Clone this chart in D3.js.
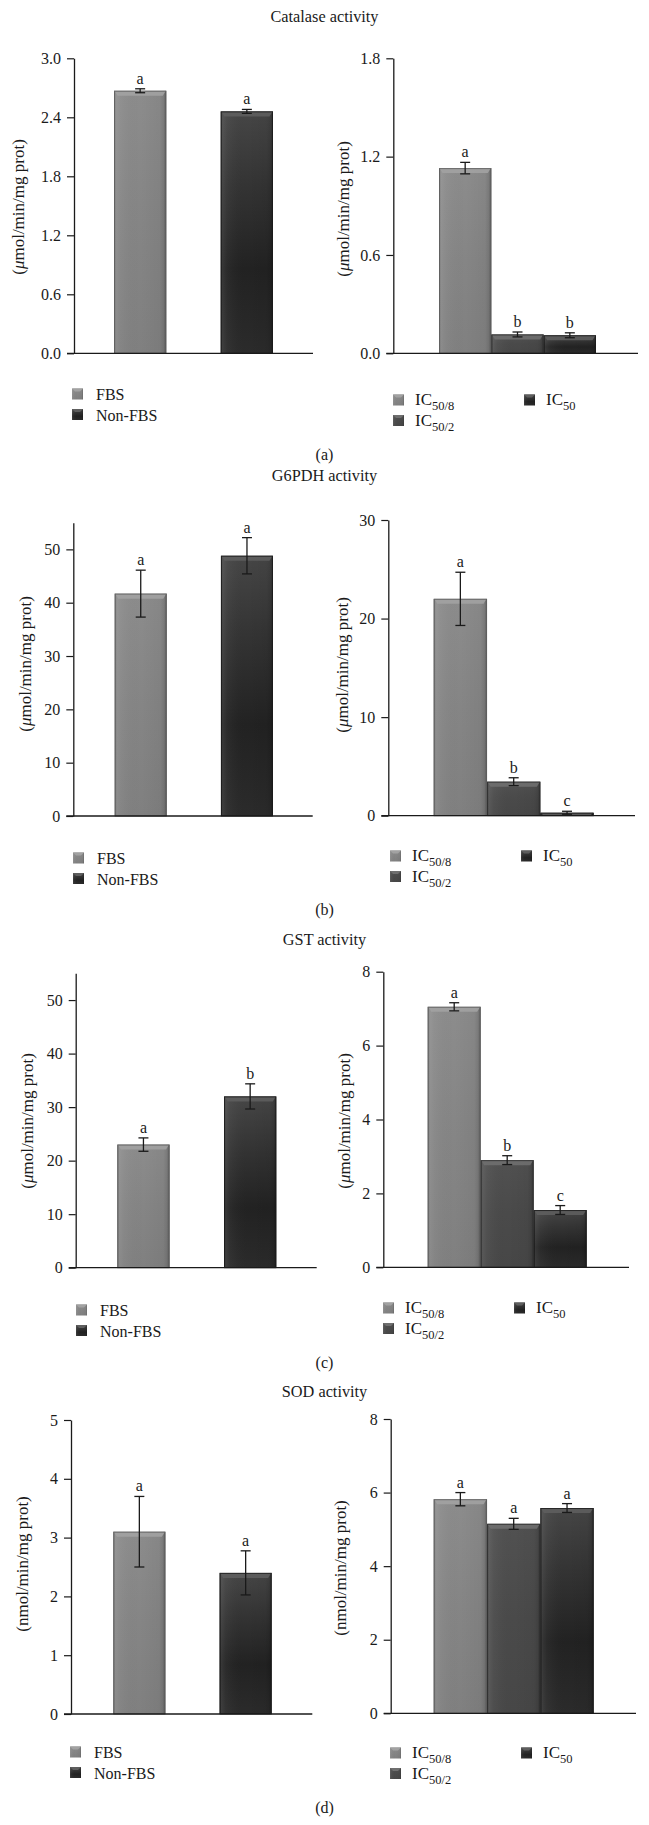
<!DOCTYPE html>
<html><head><meta charset="utf-8">
<script src="https://cdn.jsdelivr.net/npm/d3@7"></script>
<style>
body{margin:0;background:#fff}
svg{display:block}
text{font-family:"Liberation Serif","DejaVu Serif",serif;fill:#1a1a1a}
</style>
</head><body>
<svg id="chart" width="649" height="1825"></svg>
<script>
// ---------------- DATA ----------------
const panelTitles = ["Catalase activity", "G6PDH activity", "GST activity", "SOD activity"];
const panelTags = ["(a)", "(b)", "(c)", "(d)"];
const serumGroups = ["FBS", "Non-FBS"];
const doseGroups = ["IC50/8", "IC50/2", "IC50"];
const doseSubs = ["50/8", "50/2", "50"];
const unitPrefix = ["\u03bc", "\u03bc", "\u03bc", "n"];
const unitRest = "mol/min/mg prot";

const catalaseSerum = [2.67, 2.46];
const catalaseSerumErr = [0.02, 0.02];
const catalaseSerumLetters = ["a", "a"];
const catalaseDose = [1.13, 0.115, 0.11];
const catalaseDoseErr = [0.035, 0.015, 0.015];
const catalaseDoseLetters = ["a", "b", "b"];

const g6pdhSerum = [41.7, 48.8];
const g6pdhSerumErr = [4.4, 3.4];
const g6pdhSerumLetters = ["a", "a"];
const g6pdhDose = [22.0, 3.45, 0.3];
const g6pdhDoseErr = [2.7, 0.4, 0.15];
const g6pdhDoseLetters = ["a", "b", "c"];

const gstSerum = [23.0, 32.0];
const gstSerumErr = [1.25, 2.35];
const gstSerumLetters = ["a", "b"];
const gstDose = [7.05, 2.9, 1.55];
const gstDoseErr = [0.11, 0.12, 0.12];
const gstDoseLetters = ["a", "b", "c"];

const sodSerum = [3.1, 2.4];
const sodSerumErr = [0.6, 0.375];
const sodSerumLetters = ["a", "a"];
const sodDose = [5.82, 5.15, 5.58];
const sodDoseErr = [0.18, 0.15, 0.12];
const sodDoseLetters = ["a", "a", "a"];

// tick labels and axis maxima
const catalaseSerumTicks = [0, 0.6, 1.2, 1.8, 2.4, 3.0];
const catalaseDoseTicks = [0, 0.6, 1.2, 1.8];
const g6pdhSerumTicks = [0, 10, 20, 30, 40, 50];
const g6pdhDoseTicks = [0, 10, 20, 30];
const gstSerumTicks = [0, 10, 20, 30, 40, 50];
const gstDoseTicks = [0, 2, 4, 6, 8];
const sodSerumTicks = [0, 1, 2, 3, 4, 5];
const sodDoseTicks = [0, 2, 4, 6, 8];
const serumAxisMax = [3.0, 55, 55, 5];
const doseAxisMax = [1.8, 30, 8, 8];
const tickDecimals = [1, 0, 0, 0];

// ---------------- LAYOUT ----------------
const layout = [
  {title: 22, tag: 460,
   left: {ax: 74, end: 313, y0: 353.3, y1: 58.3, b0: 114, b1: 273, ylx: 18, yly: 207, lx: 72, ly: 399},
   right: {ax: 393.3, end: 638, y0: 353.3, y1: 58.3, b0: 439, b1: 596, ylx: 343, yly: 209, lx: 393, ly: 405}},
  {title: 481, tag: 915,
   left: {ax: 73.3, end: 312.7, y0: 816, y1: 522.7, b0: 114.7, b1: 273, ylx: 25, yly: 664, lx: 73, ly: 863},
   right: {ax: 388.3, end: 635, y0: 815.7, y1: 520, b0: 433.7, b1: 593.7, ylx: 342, yly: 665, lx: 390, ly: 861}},
  {title: 945, tag: 1368,
   left: {ax: 75.7, end: 316.7, y0: 1267.7, y1: 973.3, b0: 117.3, b1: 276.3, ylx: 27, yly: 1121, lx: 76, ly: 1315},
   right: {ax: 383.3, end: 629, y0: 1267.3, y1: 971.7, b0: 427.7, b1: 586.7, ylx: 344, yly: 1121, lx: 383, ly: 1313}},
  {title: 1397, tag: 1813,
   left: {ax: 71, end: 312.3, y0: 1714, y1: 1420, b0: 113.3, b1: 271.7, ylx: 22, yly: 1564, lx: 70, ly: 1757},
   right: {ax: 390.7, end: 636, y0: 1713.3, y1: 1419, b0: 433.7, b1: 593.7, ylx: 340, yly: 1568, lx: 390, ly: 1758}}
];

const serumData = [
  [catalaseSerum, catalaseSerumErr, catalaseSerumLetters, catalaseSerumTicks],
  [g6pdhSerum, g6pdhSerumErr, g6pdhSerumLetters, g6pdhSerumTicks],
  [gstSerum, gstSerumErr, gstSerumLetters, gstSerumTicks],
  [sodSerum, sodSerumErr, sodSerumLetters, sodSerumTicks]
];
const doseData = [
  [catalaseDose, catalaseDoseErr, catalaseDoseLetters, catalaseDoseTicks],
  [g6pdhDose, g6pdhDoseErr, g6pdhDoseLetters, g6pdhDoseTicks],
  [gstDose, gstDoseErr, gstDoseLetters, gstDoseTicks],
  [sodDose, sodDoseErr, sodDoseLetters, sodDoseTicks]
];

const svg = d3.select("#chart");
const defs = svg.append("defs");

// gradients
const tones = {
  light: {stops: [[0, "#8c8c8c"], [0.5, "#858585"], [1, "#808080"]], bevel: "#a2a2a2", stroke: "#5e5e5e"},
  mid: {stops: [[0, "#515151"], [0.5, "#4a4a4a"], [1, "#474747"]], bevel: "#6f6f6f", stroke: "#2e2e2e"},
  dark: {stops: [[0, "#464646"], [0.3, "#343434"], [0.65, "#222222"], [1, "#2b2b2b"]], bevel: "#5e5e5e", stroke: "#1a1a1a"}
};
Object.entries(tones).forEach(([k, t]) => {
  const g = defs.append("linearGradient").attr("id", "v-" + k)
    .attr("x1", 0).attr("y1", 0).attr("x2", 0).attr("y2", 1);
  t.stops.forEach(s => g.append("stop").attr("offset", s[0]).attr("stop-color", s[1]));
});
const hg = defs.append("linearGradient").attr("id", "edge").attr("x1", 0).attr("x2", 1).attr("y1", 0).attr("y2", 0);
[[0, "#000", 0.28], [0.05, "#fff", 0.08], [0.12, "#fff", 0.04], [0.5, "#000", 0], [0.88, "#000", 0.04], [0.95, "#000", 0.12], [1, "#000", 0.35]]
  .forEach(s => hg.append("stop").attr("offset", s[0]).attr("stop-color", s[1]).attr("stop-opacity", s[2]));

const serumTones = ["light", "dark"];
const doseTones = ["light", "mid", "dark"];

function drawBars(g, groups, tonesArr, values, errs, letters, x, y, y0) {
  const bw = x.bandwidth();
  groups.forEach((grp, i) => {
    const t = tones[tonesArr[i]];
    const xl = x(grp), yt = y(values[i]);
    const h = y0 - yt;
    g.append("rect").attr("x", xl).attr("y", yt).attr("width", bw).attr("height", h)
      .attr("fill", `url(#v-${tonesArr[i]})`);
    g.append("rect").attr("x", xl).attr("y", yt).attr("width", bw).attr("height", h)
      .attr("fill", "url(#edge)");
    const bh = Math.min(5, h);
    g.append("polygon")
      .attr("points", [[xl + 0.5, yt], [xl + bw - 0.5, yt], [xl + bw - 3.5, yt + bh], [xl + 3.5, yt + bh]].map(p => p.join(",")).join(" "))
      .attr("fill", t.bevel).attr("opacity", 0.9);
    g.append("rect").attr("x", xl + 0.5).attr("y", yt + 0.5).attr("width", bw - 1).attr("height", Math.max(0, h - 0.5))
      .attr("fill", "none").attr("stroke", t.stroke).attr("stroke-width", 1).attr("stroke-opacity", 0.8);
    // error bar
    const cx = xl + bw / 2;
    const eTop = y(values[i] + errs[i]), eBot = y(values[i] - errs[i]);
    g.append("line").attr("x1", cx).attr("x2", cx).attr("y1", eTop).attr("y2", eBot)
      .attr("stroke", "#1a1a1a").attr("stroke-width", 1.3);
    [eTop, eBot].forEach(ey => g.append("line").attr("x1", cx - 5).attr("x2", cx + 5).attr("y1", ey).attr("y2", ey)
      .attr("stroke", "#1a1a1a").attr("stroke-width", 1.3));
    g.append("text").attr("x", cx).attr("y", eTop - 5).attr("text-anchor", "middle")
      .attr("font-size", 16).text(letters[i]);
  });
}

function legendSwatch(g, x, yBase, tone) {
  const t = tones[tone];
  const s = 11, yt = yBase - 10.5;
  g.append("rect").attr("x", x).attr("y", yt).attr("width", s).attr("height", s).attr("fill", `url(#v-${tone})`);
  g.append("rect").attr("x", x).attr("y", yt).attr("width", s).attr("height", s).attr("fill", "url(#edge)");
  g.append("polygon").attr("points", [[x, yt], [x + s, yt], [x + s - 3, yt + 3], [x + 3, yt + 3]].map(p => p.join(",")).join(" "))
    .attr("fill", t.bevel);
}

function drawAxes(g, L, y, ticks, dec) {
  const axis = d3.axisLeft(y).tickValues(ticks).tickSize(7).tickPadding(6).tickSizeOuter(0)
    .tickFormat(d3.format(dec ? ".1f" : "d"));
  const ag = g.append("g").attr("transform", `translate(${L.ax},0)`).call(axis);
  ag.attr("font-family", null).attr("font-size", null);
  ag.select(".domain").attr("stroke", "#1a1a1a").attr("stroke-width", 1.3);
  ag.selectAll(".tick line").attr("stroke", "#1a1a1a").attr("stroke-width", 1.2);
  ag.selectAll(".tick text").attr("font-size", 16).attr("fill", "#1a1a1a");
  g.append("line").attr("x1", L.ax - 7).attr("x2", L.end).attr("y1", L.y0).attr("y2", L.y0)
    .attr("stroke", "#1a1a1a").attr("stroke-width", 1.3);
}

function yLabel(g, L, pi) {
  const t = g.append("text").attr("transform", `translate(${L.ylx},${L.yly}) rotate(-90)`).attr("text-anchor", "middle")
    .attr("dominant-baseline", "central").attr("font-size", 17);
  t.append("tspan").text("(");
  t.append("tspan").attr("font-style", pi < 3 ? "italic" : null).text(unitPrefix[pi]);
  t.append("tspan").text(unitRest + ")");
}

layout.forEach((P, pi) => {
  const g = svg.append("g");
  g.append("text").attr("x", 324.5).attr("y", P.title).attr("text-anchor", "middle").attr("font-size", 16.3).text(panelTitles[pi]);
  g.append("text").attr("x", 324.5).attr("y", P.tag).attr("text-anchor", "middle").attr("font-size", 16).text(panelTags[pi]);

  // left: serum
  {
    const L = P.left;
    const [vals, errs, lets, ticks] = serumData[pi];
    const y = d3.scaleLinear().domain([0, serumAxisMax[pi]]).range([L.y0, L.y1]);
    const x = d3.scaleBand().domain(serumGroups).range([L.b0, L.b1]).paddingInner(0.51).paddingOuter(0);
    drawBars(g, serumGroups, serumTones, vals, errs, lets, x, y, L.y0);
    drawAxes(g, L, y, ticks, tickDecimals[pi]);
    yLabel(g, L, pi);
    serumGroups.forEach((s, i) => {
      const yb = L.ly + i * 20.5;
      legendSwatch(g, L.lx, yb, serumTones[i]);
      g.append("text").attr("x", L.lx + 24).attr("y", yb + 1).attr("font-size", 16).text(s);
    });
  }
  // right: dose
  {
    const L = P.right;
    const [vals, errs, lets, ticks] = doseData[pi];
    const y = d3.scaleLinear().domain([0, doseAxisMax[pi]]).range([L.y0, L.y1]);
    const x = d3.scaleBand().domain(doseGroups).range([L.b0, L.b1]).paddingInner(0).paddingOuter(0);
    drawBars(g, doseGroups, doseTones, vals, errs, lets, x, y, L.y0);
    drawAxes(g, L, y, ticks, tickDecimals[pi]);
    yLabel(g, L, pi);
    const pos = [[0, 0], [0, 1], [1, 0]];
    doseGroups.forEach((s, i) => {
      const lx = L.lx + pos[i][0] * 131, yb = L.ly + pos[i][1] * 20.5;
      legendSwatch(g, lx, yb, doseTones[i]);
      const t = g.append("text").attr("x", lx + 22).attr("y", yb).attr("font-size", 17);
      t.append("tspan").text("IC");
      t.append("tspan").attr("dy", 5).attr("font-size", 12.5).text(doseSubs[i]);
    });
  }
});
</script>
</body></html>
